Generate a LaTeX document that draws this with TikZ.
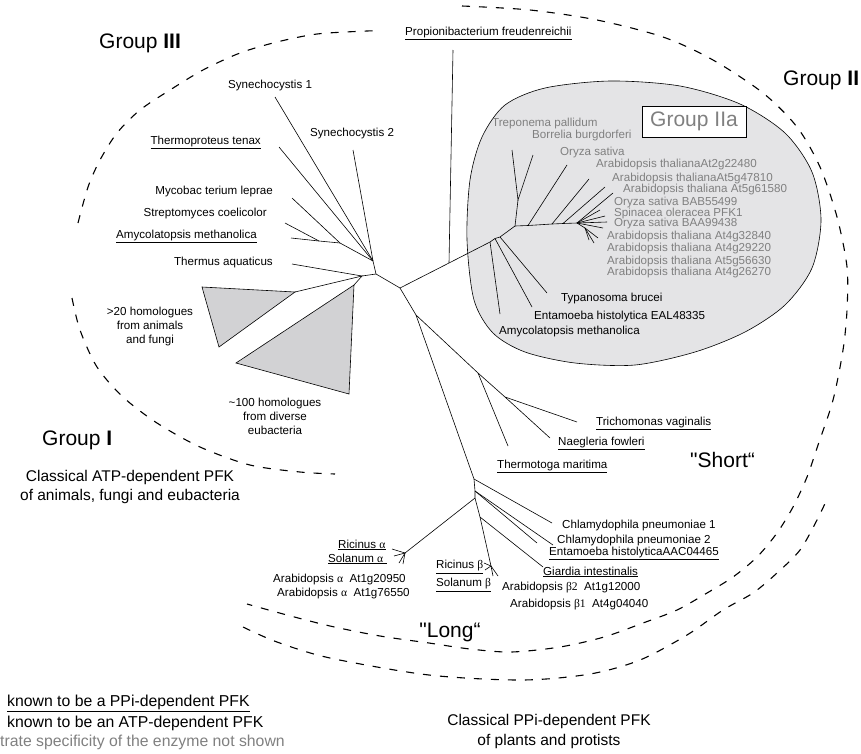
\documentclass[tikz,border=0pt]{standalone}
\usepackage{fontspec}
\setmainfont{Liberation Sans}[Ligatures=TeXOff]
\newfontfamily\greekfont{Liberation Serif}
\usetikzlibrary{positioning}

\begin{document}
\begin{tikzpicture}[x=1pt,y=-1pt,
  branch/.style={line width=0.6pt},
  taxon/.style={font=\fontsize{11.6}{14}\selectfont, inner sep=0pt},
  greytaxon/.style={taxon, text=labelgrey},
  groupname/.style={font=\fontsize{21}{24}\selectfont, inner sep=0pt},
  caption/.style={font=\fontsize{15.5}{19.5}\selectfont, inner sep=0pt, align=center},
  legend/.style={font=\fontsize{15.8}{19}\selectfont, inner sep=0pt},
  boundary/.style={dash pattern=on 8pt off 9pt, line width=1.1pt},
  clade/.style={fill=cladegrey, draw=black, line width=0.6pt}]
  \definecolor{labelgrey}{RGB}{128,128,128}
  \definecolor{cladegrey}{RGB}{210,210,212}
  \definecolor{blobgrey}{RGB}{228,228,230}

  \useasboundingbox (0,0) rectangle (861,753);

  % group IIa area
  \filldraw[fill=blobgrey, draw=black, line width=0.6pt] plot[smooth cycle] coordinates {
    (467,240) (470,180) (482,137) (505,105) (545,88) (610,81) (680,86)
    (740,104) (785,133) (812,172) (821,220) (812,268) (785,305) (745,332)
    (695,352) (635,365) (575,363) (525,352) (493,333) (474,300)};

  % group boundaries
  \draw[boundary] plot[smooth] coordinates {(78,223) (88,187) (100,160) (117,133)
    (140,110) (170,90) (203,70) (240,53) (277,42) (317,34) (367,31) (378,31)};
  \draw[boundary] plot[smooth] coordinates {(72,298) (80,330) (97,367) (123,397)
    (157,423) (200,447) (250,465) (300,472) (335,474)};
  \draw[boundary] plot[smooth] coordinates {(462,6) (530,10) (597,20) (663,37)
    (713,60) (763,93) (797,127) (820,167) (837,217) (847,267) (847,310) (843,350)
    (833,400) (818,445) (807,477) (793,507) (777,533) (757,557) (733,577)
    (707,593) (677,610) (643,623) (604,637) (560,647) (511,652) (470,649)
    (429,643) (380,636) (330,626) (287,615) (247,604)};
  \draw[boundary] plot[smooth] coordinates {(243,627) (277,642) (330,658) (429,675)
    (522,680) (590,674) (640,660) (687,635) (723,610) (753,593) (777,573)
    (800,550) (817,520) (828,497)};

  % inner nodes
  \coordinate (root) at (400,288);
  \coordinate (g3a) at (376,274);
  \coordinate (g3b) at (373,261);
  \coordinate (myc) at (340,243);
  \coordinate (str) at (319,241);
  \coordinate (g1) at (362,276);
  \coordinate (prop) at (449,263);
  \coordinate (k1) at (490,242);
  \coordinate (k2) at (495,238.5);
  \coordinate (k3) at (500,237);
  \coordinate (n1) at (515,226);
  \coordinate (n2) at (518,200);
  \coordinate (o1) at (528,225.5);
  \coordinate (o2) at (552,224);
  \coordinate (o3) at (563,223.5);
  \coordinate (c0) at (577,223);
  \coordinate (c1) at (585,228);
  \coordinate (low) at (416,315);
  \coordinate (e0) at (478,373);
  \coordinate (d0) at (505,397);
  \coordinate (f0) at (474,479);
  \coordinate (h0) at (475,491);
  \coordinate (g0) at (475,498);
  \coordinate (l0) at (480,517);
  \coordinate (alpha) at (405,553);
  \coordinate (beta) at (491,566);

  % tips
  \coordinate (syn1) at (275,97);
  \coordinate (syn2) at (353,150);
  \coordinate (thp) at (279,147);
  \coordinate (mle) at (292,198);
  \coordinate (sco) at (285,223);
  \coordinate (ame) at (291,238);
  \coordinate (taq) at (292,264);
  \coordinate (tri1) at (295,292);
  \coordinate (tri2) at (354,285);
  \coordinate (sa) at (202,287);
  \coordinate (sb) at (219,347);
  \coordinate (ba) at (236,363);
  \coordinate (bb) at (349,394);
  \coordinate (pfr) at (453,50);
  \coordinate (amy2) at (500,314);
  \coordinate (eal) at (532,307);
  \coordinate (tbr) at (547,293);
  \coordinate (tpa) at (512,150);
  \coordinate (bbu) at (533,155);
  \coordinate (osa) at (567,165);
  \coordinate (at2) at (589,179);
  \coordinate (at5a) at (605,187);
  \coordinate (at5b) at (613,193);
  \coordinate (tva) at (577,422);
  \coordinate (nfo) at (550,438);
  \coordinate (tma) at (508,446);
  \coordinate (cp1) at (552,523);
  \coordinate (cp2) at (553,545);
  \coordinate (eah) at (537,543);
  \coordinate (gin) at (543,567);

  % group III and I
  \draw[clade] (tri1) -- (sa) -- (sb) -- cycle;
  \draw[clade] (tri2) -- (ba) -- (bb) -- cycle;
  \draw[branch] (syn2) -- (g3b) -- (g3a) -- (root);
  \draw[branch] (syn1) -- (g3b);
  \draw[branch] (thp) -- (g3b);
  \draw[branch] (mle) -- (myc) -- (g3b);
  \draw[branch] (sco) -- (str) -- (myc);
  \draw[branch] (ame) -- (str);
  \draw[branch] (taq) -- (g1) -- (g3a);
  \draw[branch] (tri1) -- (g1) -- (tri2);

  % group II
  \draw[branch] (root) -- (prop) -- (k1) -- (k2) -- (k3) -- (n1) -- (n2);
  \draw[branch] (pfr) -- (prop);
  \draw[branch] (k1) -- (amy2);
  \draw[branch] (k2) -- (eal);
  \draw[branch] (k3) -- (tbr);
  \draw[branch] (tpa) -- (n2) -- (bbu);
  \draw[branch] (n1) -- (o1) -- (o2) -- (o3) -- (c0) -- (at5b);
  \draw[branch] (o1) -- (osa);
  \draw[branch] (o2) -- (at2);
  \draw[branch] (o3) -- (at5a);
  \draw[branch] (c0) -- (c1);
  \foreach \n/\tx/\ty in {ca/600/210, cb/605/216, cc/607/222, cd/603/228} {
    \coordinate (\n) at (\tx,\ty);
    \draw[branch] (c0) -- (\n);
  }
  \foreach \n/\tx/\ty in {ce/598/238, cf/594/243, cg/589/240} {
    \coordinate (\n) at (\tx,\ty);
    \draw[branch] (c1) -- (\n);
  }

  % PPi-dependent part
  \draw[branch] (root) -- (low) -- (e0) -- (d0) -- (tva);
  \draw[branch] (d0) -- (nfo);
  \draw[branch] (e0) -- (tma);
  \draw[branch] (low) -- (f0) -- (h0) -- (g0) -- (l0) -- (beta);
  \draw[branch] (f0) -- (cp1);
  \draw[branch] (h0) -- (cp2);
  \draw[branch] (h0) -- (eah);
  \draw[branch] (l0) -- (gin);
  \draw[branch] (g0) -- (alpha);
  \foreach \n/\tx/\ty in {ra/392/549, rb/394/556, rc/399/563, rd/403/564} {
    \coordinate (\n) at (\tx,\ty);
    \draw[branch] (alpha) -- (\n);
  }
  \foreach \n/\tx/\ty in {sa2/484/563, sb2/485/570, sc2/493/576, sd2/498/576} {
    \coordinate (\n) at (\tx,\ty);
    \draw[branch] (beta) -- (\n);
  }

  % labels group III
  \node[taxon, anchor=west] (lsyn1) at (228,85) {Synechocystis 1};
  \node[taxon, anchor=west] (lsyn2) at (310,133) {Synechocystis 2};
  \node[taxon, anchor=east] (lthp) at (261,142) {\underline{Thermoproteus tenax}};
  \node[taxon, anchor=east] (lmle) at (273,191) {Mycobac terium leprae};
  \node[taxon, anchor=east] (lsco) at (267,213) {Streptomyces coelicolor};
  \node[taxon, anchor=east] (lame) at (257,236) {\underline{Amycolatopsis methanolica}};
  \node[taxon, anchor=east] (ltaq) at (273,262) {Thermus aquaticus};
  \node[taxon, align=center] (lanim) at (150,326) {>20 homologues\\from animals\\and fungi};
  \node[taxon, align=center] (leub) at (275,416) {\textasciitilde100 homologues\\from diverse\\eubacteria};

  % labels group II
  \node[taxon, anchor=west] (lpfr) at (405,33) {\underline{Propionibacterium freudenreichii}};
  \node[taxon, anchor=west] (ltbr) at (561,298) {Typanosoma brucei};
  \node[taxon, anchor=west] (leal) at (534,316) {Entamoeba histolytica EAL48335};
  \node[taxon, anchor=west] (lamy2) at (499,331) {Amycolatopsis methanolica};
  \foreach \txt/\lx/\ly [count=\i] in {
    Treponema pallidum/492/123,
    Borrelia burgdorferi/532/135,
    Oryza sativa/560/152,
    Arabidopsis thalianaAt2g22480/596/164,
    Arabidopsis thalianaAt5g47810/612/178,
    Arabidopsis thaliana At5g61580/623/189,
    Oryza sativa BAB55499/614/202,
    Spinacea oleracea PFK1/614/213,
    Oryza sativa BAA99438/614/223,
    Arabidopsis thaliana At4g32840/607/236,
    Arabidopsis thaliana At4g29220/607/248,
    Arabidopsis thaliana At5g56630/607/261,
    Arabidopsis thaliana At4g26270/607/272} {
    \node[greytaxon, anchor=west] (lgrey\i) at (\lx,\ly) {\txt};
  }
  \node[draw=black, fill=white, line width=0.6pt, text=labelgrey,
    font=\fontsize{21}{24}\selectfont, minimum width=104pt, minimum height=31pt,
    inner sep=0pt] (grpIIa) at (694,121.5) {Group IIa};

  % labels PPi part
  \node[taxon, anchor=west] (ltva) at (596,423) {\underline{Trichomonas vaginalis}};
  \node[taxon, anchor=west] (lnfo) at (558,443) {\underline{Naegleria fowleri}};
  \node[taxon, anchor=west] (ltma) at (497,466) {\underline{Thermotoga maritima}};
  \node[taxon, anchor=west] (lcp1) at (562,525) {Chlamydophila pneumoniae 1};
  \node[taxon, anchor=west] (lcp2) at (557,540) {Chlamydophila pneumoniae 2};
  \node[taxon, anchor=west] (leah) at (549,553) {\underline{Entamoeba histolyticaAAC04465}};
  \node[taxon, anchor=west] (lgin) at (543,572) {\underline{Giardia intestinalis}};
  \node[taxon, anchor=west] (lab2) at (502,588) {Arabidopsis {\greekfont β2}\ \ At1g12000};
  \node[taxon, anchor=west] (lab1) at (510,605) {Arabidopsis {\greekfont β1}\ \ At4g04040};
  \node[taxon, anchor=west] (lrb) at (436,567) {\underline{Ricinus {\greekfont β}}};
  \node[taxon, anchor=west] (lsb) at (436,585) {\underline{Solanum {\greekfont β}}};
  \node[taxon, anchor=west] (lra) at (338,545) {\underline{Ricinus {\greekfont α}}};
  \node[taxon, anchor=west] (lsa) at (328,559) {\underline{Solanum {\greekfont α}\ }};
  \node[taxon, anchor=west] (laa1) at (273,579) {Arabidopsis {\greekfont α}\ \ At1g20950};
  \node[taxon, anchor=west] (laa2) at (277,593) {Arabidopsis {\greekfont α}\ \ At1g76550};

  % group names and captions
  \node[groupname, anchor=west] (grpIII) at (99,43) {Group \textbf{III}};
  \node[groupname, anchor=west] (grpII) at (783,80) {Group \textbf{II}};
  \node[groupname, anchor=west] (grpI) at (42,440) {Group \textbf{I}};
  \node[groupname, anchor=west] (short) at (690,460) {"Short“};
  \node[groupname] (long) at (450,632) {"Long“};
  \node[caption] (atp) at (130,487) {Classical ATP-dependent PFK\\of animals, fungi and eubacteria};
  \node[caption] (ppi) at (549,731.5) {Classical PPi-dependent PFK\\of plants and protists};

  % legend
  \node[legend, anchor=west] (lg1) at (7,703) {\underline{known to be a PPi-dependent PFK}};
  \node[legend, anchor=west] (lg2) at (7,723) {known to be an ATP-dependent PFK};
  \node[legend, anchor=west, text=labelgrey] (lg3) at (0,742) {trate specificity of the enzyme not shown};
\end{tikzpicture}
\end{document}
